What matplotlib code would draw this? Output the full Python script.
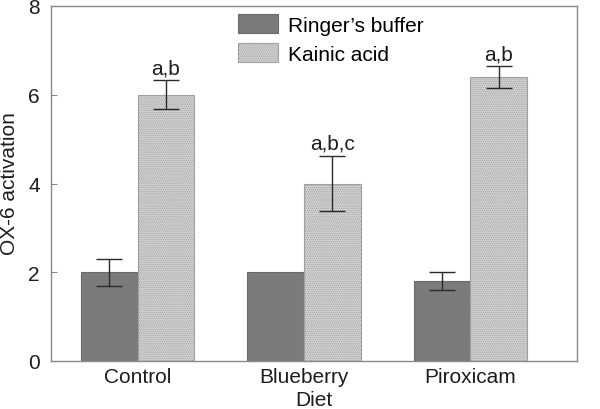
import matplotlib
matplotlib.use("Agg")
import matplotlib.pyplot as plt
import numpy as np

categories = ["Control", "Blueberry", "Piroxicam"]
series_names = ["Ringer\u2019s buffer", "Kainic acid"]
ringer = [2.0, 2.0, 1.8]
ringer_err = [0.3, 0.0, 0.2]
kainic = [6.0, 4.0, 6.4]
kainic_err = [0.33, 0.63, 0.25]
kainic_labels = ["a,b", "a,b,c", "a,b"]
yticks = [0, 2, 4, 6, 8]

plt.rcParams['font.family'] = ['Liberation Sans', 'DejaVu Sans']
plt.rcParams['hatch.color'] = '#a0a0a0'
plt.rcParams['hatch.linewidth'] = 0.5

FS = 15
fig = plt.figure(figsize=(6, 4.1), dpi=100)
ax = fig.add_axes([51/600, 1-362/410, (577-51)/600, (362-7)/410])

x = np.arange(len(categories))
w = 0.34
spine_c = '#8a8a8a'
txt_c = '#1e1e1e'

ax.bar(x - w/2, ringer, w, color='#7b7b7b', edgecolor='#6a6a6a', linewidth=0.8,
       label=series_names[0], zorder=2)
ax.bar(x + w/2, kainic, w, color='#d0d0d0', edgecolor='#a0a0a0', linewidth=0.8,
       hatch='........', label=series_names[1], zorder=2)

r = np.array(ringer); re = np.array(ringer_err)
mask = re > 0
ax.errorbar((x - w/2)[mask], r[mask], yerr=re[mask], fmt='none', ecolor='#2a2a2a',
            elinewidth=1.0, capsize=9.7, capthick=1.0, zorder=3)
ax.errorbar(x + w/2, kainic, yerr=kainic_err, fmt='none', ecolor='#2a2a2a',
            elinewidth=1.0, capsize=9.7, capthick=1.0, zorder=3)

for xi, v, e, lab in zip(x + w/2, kainic, kainic_err, kainic_labels):
    ax.annotate(lab, (xi, v + e), xytext=(0, 2), textcoords='offset points',
                ha='center', va='bottom', fontsize=FS, color=txt_c)

ax.set_xlim(-0.52, 2.64)
ax.set_ylim(0, 8)
ax.set_yticks(yticks)
ax.set_xticks(x)
ax.set_xticklabels(categories, fontsize=FS, color=txt_c)
ax.tick_params(axis='y', direction='in', length=4, color=spine_c, labelsize=FS,
               labelcolor=txt_c, pad=8)
ax.tick_params(axis='x', length=0, pad=4)
for s in ax.spines.values():
    s.set_color(spine_c)
    s.set_linewidth(1.0)

fig.text(10/600, 1-184/410, "OX-6 activation", rotation=90, ha='center', va='center',
         fontsize=FS, color=txt_c)
ax.set_xlabel("Diet", fontsize=FS, color=txt_c, labelpad=3)

leg = ax.legend(loc='upper left', bbox_to_anchor=(238/600, 1-15/410),
                bbox_transform=fig.transFigure, frameon=False, fontsize=FS,
                handlelength=1.92, handleheight=1.06, handletextpad=0.48,
                labelspacing=0.38, borderpad=0, borderaxespad=0)

fig.savefig("out.png", dpi=100)
